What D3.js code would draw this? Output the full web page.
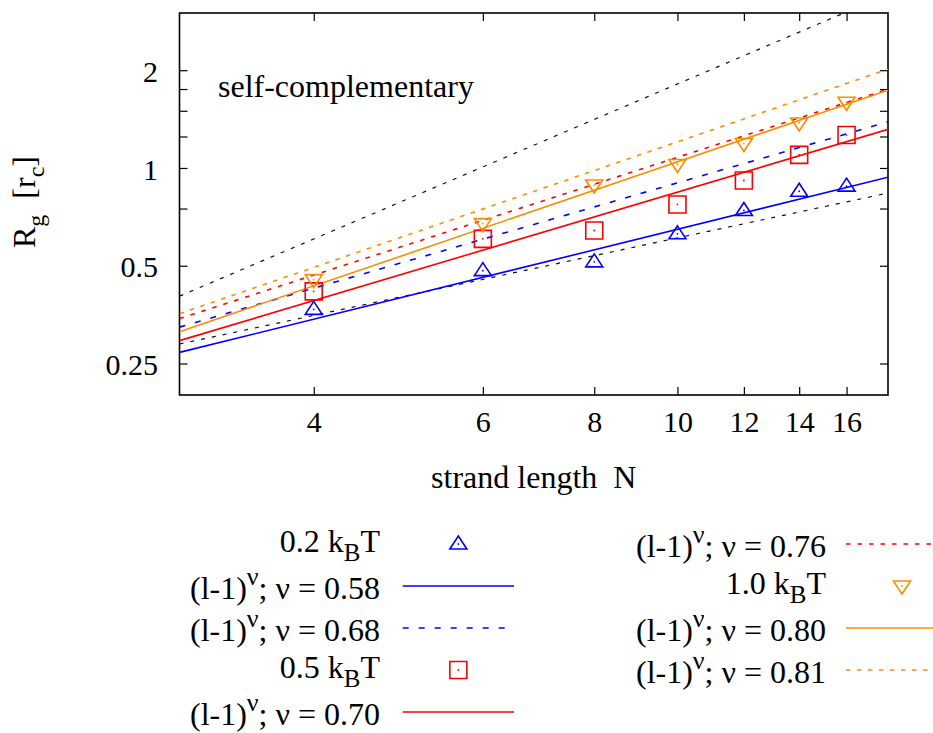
<!DOCTYPE html>
<html>
<head>
<meta charset="utf-8">
<script src="https://cdn.jsdelivr.net/npm/d3@7"></script>
<style>
  body { margin: 0; background: #fff; }
  text { font-family: "Liberation Serif", "Times New Roman", serif; fill: #000; }
</style>
</head>
<body>
<svg id="chart" width="933" height="733"></svg>
<script>
// data
const strandN = [4, 6, 8, 10, 12, 14, 16];
const rg02 = [0.367, 0.483, 0.514, 0.627, 0.740, 0.848, 0.879];
const rg05 = [0.417, 0.605, 0.642, 0.772, 0.915, 1.097, 1.263];
const rg10 = [0.453, 0.674, 0.886, 1.025, 1.189, 1.376, 1.593];
const tempLabels = ["0.2", "0.5", "1.0"];

// power law fits  Rg = pre * (N-1)^nu
const fitNu  = [0.58, 0.68, 0.70, 0.76, 0.80, 0.81];
const fitPre = [0.181, 0.202, 0.181, 0.203, 0.180, 0.203];
// black reference lines (not in key)
const refNu  = [1.0, 0.5];
const refPre = [0.2015, 0.203];

const xTicks = [4, 6, 8, 10, 12, 14, 16];
const yTicks = [0.25, 0.5, 1, 2];
const yMinor = [0.75, 1.25, 1.5, 1.75];

const colors = ["#0000ff", "#ff0000", "#ff8c00"];

let svg = d3.select("#chart");
let pLeft = 179.5, pRight = 888, pTop = 13, pBottom = 395;

// x is plotted as (N-1) on a log axis, labelled with N
let x = d3.scaleLog().domain([2, 17]).range([pLeft, pRight]);
let y = d3.scaleLog().domain([0.2, 3]).range([pBottom, pTop]);

svg.append("defs").append("clipPath").attr("id", "plotclip")
  .append("rect").attr("x", pLeft).attr("y", pTop)
  .attr("width", pRight - pLeft).attr("height", pBottom - pTop);

let styleAxis = (g) => {
  g.attr("font-family", null).attr("font-size", 30);
  g.select(".domain").remove();
  g.selectAll(".tick line").attr("stroke", "#000").attr("stroke-width", 1.2);
};

let xt = xTicks.map(n => n - 1);
svg.append("g").attr("transform", `translate(0,${pBottom})`)
  .call(d3.axisBottom(x).tickValues(xt).tickFormat(d => d + 1).tickSizeInner(-8).tickSizeOuter(0).tickPadding(15.5))
  .call(styleAxis);
svg.append("g").attr("transform", `translate(0,${pTop})`)
  .call(d3.axisTop(x).tickValues(xt).tickFormat("").tickSizeInner(-8).tickSizeOuter(0))
  .call(styleAxis);

svg.append("g").attr("transform", `translate(${pLeft},0)`)
  .call(d3.axisLeft(y).tickValues(yTicks).tickFormat(d => d).tickSizeInner(-8).tickSizeOuter(0).tickPadding(21.5))
  .call(styleAxis)
  .selectAll("text").attr("dy", "0.37em");
svg.append("g").attr("transform", `translate(${pLeft},0)`)
  .call(d3.axisLeft(y).tickValues(yMinor).tickFormat("").tickSizeInner(-8).tickSizeOuter(0))
  .call(styleAxis);
svg.append("g").attr("transform", `translate(${pRight},0)`)
  .call(d3.axisRight(y).tickValues(yTicks.concat(yMinor)).tickFormat("").tickSizeInner(-8).tickSizeOuter(0))
  .call(styleAxis);

// frame
svg.append("rect").attr("x", pLeft).attr("y", pTop)
  .attr("width", pRight - pLeft).attr("height", pBottom - pTop)
  .attr("fill", "none").attr("stroke", "#000").attr("stroke-width", 1.6);

// line styles for the fits: blue, blue, red, red, orange, orange
let fitColor = [colors[0], colors[0], colors[1], colors[1], colors[2], colors[2]];
let fitDash = [null, "6,10", null, "4.5,7", null, "4.5,6.5"];

let plot = svg.append("g").attr("clip-path", "url(#plotclip)");

let powerLine = (pre, nu) => d3.line()
  .x(d => x(d))
  .y(d => y(pre * Math.pow(d, nu)));

for (let i = 0; i < refNu.length; i++) {
  plot.append("path").datum(x.domain())
    .attr("d", powerLine(refPre[i], refNu[i]))
    .attr("fill", "none").attr("stroke", "#111").attr("stroke-width", 1.2)
    .attr("stroke-dasharray", "4,7");
}
for (let i = 0; i < fitNu.length; i++) {
  plot.append("path").datum(x.domain())
    .attr("d", powerLine(fitPre[i], fitNu[i]))
    .attr("fill", "none").attr("stroke", fitColor[i]).attr("stroke-width", 1.6)
    .attr("stroke-dasharray", fitDash[i]);
}

// marker shapes
let markerPath = [
  "M0,-8L8.5,5L-8.5,5Z",        // triangle up
  "M-8.5,-8.5H8.5V8.5H-8.5Z",   // square
  "M0,8L8.5,-5L-8.5,-5Z"        // triangle down
];
let drawMarker = (g, k) => {
  g.append("path").attr("d", markerPath[k]).attr("fill", "none")
    .attr("stroke", colors[k]).attr("stroke-width", 1.6);
  g.append("circle").attr("r", 0.9).attr("fill", colors[k]);
};

let series = [rg02, rg05, rg10];
series.forEach((vals, k) => {
  let pts = svg.append("g").selectAll("g").data(vals).enter().append("g")
    .attr("transform", (d, i) => `translate(${x(strandN[i] - 1)},${y(d)})`);
  pts.each(function () { drawMarker(d3.select(this), k); });
});

// title inside plot
svg.append("text").attr("x", 218).attr("y", 97).attr("font-size", 32)
  .text("self-complementary");

// axis titles
svg.append("text").attr("x", (pLeft + pRight) / 2).attr("y", 488)
  .attr("text-anchor", "middle").attr("font-size", 32).style("white-space", "pre")
  .text("strand length  N");

let yl = svg.append("text").attr("transform", "translate(35,202) rotate(-90)")
  .attr("text-anchor", "middle").attr("font-size", 32).style("white-space", "pre");
yl.append("tspan").text("R");
yl.append("tspan").attr("dy", 9).attr("font-size", 24).text("g");
yl.append("tspan").attr("dy", -9).text("  [r");
yl.append("tspan").attr("dy", 9).attr("font-size", 24).text("c");
yl.append("tspan").attr("dy", -9).text("]");

// key: entries flow down the left column, then the right one
let entries = [
  { kind: "pt", k: 0 }, { kind: "fit", f: 0 }, { kind: "fit", f: 1 },
  { kind: "pt", k: 1 }, { kind: "fit", f: 2 },
  { kind: "fit", f: 3 }, { kind: "pt", k: 2 }, { kind: "fit", f: 4 }, { kind: "fit", f: 5 }
];
let cols = [{ textX: 380, x0: 402.7, x1: 514 }, { textX: 826, x0: 846, x1: 958 }];
let rowY0 = 544, rowH = 42;

entries.forEach((e, idx) => {
  let c = idx < 5 ? 0 : 1;
  let r = idx < 5 ? idx : idx - 5;
  let col = cols[c];
  let ry = rowY0 + r * rowH;
  let t = svg.append("text").attr("x", col.textX).attr("text-anchor", "end")
    .attr("font-size", 32);
  if (e.kind === "pt") {
    t.attr("y", ry + 8);
    t.append("tspan").text(tempLabels[e.k] + " k");
    t.append("tspan").attr("dy", 9).attr("font-size", 25).text("B");
    t.append("tspan").attr("dy", -9).text("T");
    let g = svg.append("g").attr("transform", `translate(${(col.x0 + col.x1) / 2},${ry})`);
    drawMarker(g, e.k);
  } else {
    t.attr("y", ry + 13);
    t.append("tspan").text("(l-1)");
    t.append("tspan").attr("dy", -14).attr("font-size", 26).text("ν");
    t.append("tspan").attr("dy", 14).text("; ν = " + d3.format(".2f")(fitNu[e.f]));
    svg.append("line").attr("x1", col.x0).attr("x2", col.x1)
      .attr("y1", ry).attr("y2", ry)
      .attr("stroke", fitColor[e.f]).attr("stroke-width", 1.6)
      .attr("stroke-dasharray", fitDash[e.f]);
  }
});
</script>
</body>
</html>
